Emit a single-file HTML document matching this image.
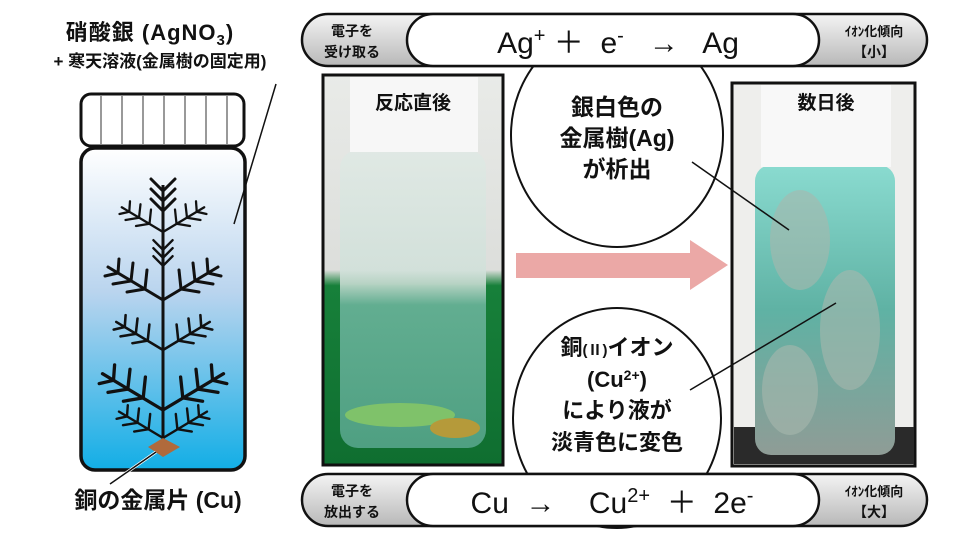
<!DOCTYPE html>
<html><head><meta charset="utf-8"><style>
body{margin:0;background:#fff}
svg{display:block}
text{font-family:"Liberation Sans","Noto Sans CJK JP",sans-serif;font-weight:bold;fill:#111}
text.eq{font-weight:normal}
</style></head><body>
<svg width="960" height="540" viewBox="0 0 960 540" xmlns="http://www.w3.org/2000/svg">
<defs>
<linearGradient id="liq" x1="0" y1="0" x2="0" y2="1"><stop offset="0" stop-color="#ffffff"/><stop offset="0.45" stop-color="#b9d4ee"/><stop offset="1" stop-color="#12aee6"/></linearGradient>
<linearGradient id="gray" x1="0" y1="0" x2="0" y2="1"><stop offset="0" stop-color="#f4f4f4"/><stop offset="1" stop-color="#b8b8b8"/></linearGradient>
<linearGradient id="p1" x1="0" y1="0" x2="0" y2="1"><stop offset="0" stop-color="#e9ebe8"/><stop offset="0.5" stop-color="#dcdedb"/><stop offset="0.54" stop-color="#17803a"/><stop offset="1" stop-color="#0f6e30"/></linearGradient>
<linearGradient id="b1" x1="0" y1="0" x2="0" y2="1"><stop offset="0" stop-color="#dfe9e4"/><stop offset="0.45" stop-color="#cfe0d9"/><stop offset="0.52" stop-color="#6fb6a0"/><stop offset="1" stop-color="#5aa890"/></linearGradient>
<linearGradient id="b2" x1="0" y1="0" x2="0" y2="1"><stop offset="0" stop-color="#8adbd0"/><stop offset="0.5" stop-color="#5fb2a4"/><stop offset="1" stop-color="#8f9c96"/></linearGradient>
<g id="br" stroke="#111" stroke-width="3" fill="none" stroke-linecap="round">
<line x1="0" y1="0" x2="55" y2="-33"/>
<line x1="18" y1="-11" x2="16" y2="-30"/><line x1="18" y1="-11" x2="36" y2="-8"/>
<line x1="32" y1="-19" x2="30" y2="-37"/><line x1="32" y1="-19" x2="50" y2="-16"/>
<line x1="45" y1="-27" x2="44" y2="-41"/><line x1="45" y1="-27" x2="58" y2="-24"/>
</g>
<g id="tuft" stroke="#111" stroke-width="3" fill="none" stroke-linecap="round">
<polyline points="-12,-6 0,6 12,-6"/><polyline points="-12,4 0,16 12,4"/><polyline points="-12,14 0,26 12,14"/>
</g>
</defs>

<text x="150" y="40" font-size="22" text-anchor="middle" letter-spacing="1">硝酸銀 (AgNO<tspan font-size="15" dy="5">3</tspan><tspan dy="-5">)</tspan></text>
<text x="160" y="67" font-size="17" text-anchor="middle">+ 寒天溶液(金属樹の固定用)</text>
<rect x="81" y="94" width="163" height="52" rx="10" fill="#fff" stroke="#111" stroke-width="3"/>
<g stroke="#777" stroke-width="1.5">
<line x1="101" y1="96" x2="101" y2="144"/><line x1="122" y1="96" x2="122" y2="144"/><line x1="143" y1="96" x2="143" y2="144"/><line x1="164" y1="96" x2="164" y2="144"/><line x1="185" y1="96" x2="185" y2="144"/><line x1="206" y1="96" x2="206" y2="144"/><line x1="227" y1="96" x2="227" y2="144"/></g>
<rect x="81" y="148" width="164" height="322" rx="14" fill="url(#liq)" stroke="#111" stroke-width="3.5"/>
<line x1="276" y1="84" x2="234" y2="224" stroke="#111" stroke-width="1.5"/>
<g>
<line x1="163" y1="185" x2="163" y2="440" stroke="#111" stroke-width="3"/>
<use href="#tuft" transform="translate(163,185)"/>
<use href="#tuft" transform="translate(163,245) scale(0.8)"/>
<use href="#br" transform="translate(163,232) scale(0.75)"/>
<use href="#br" transform="translate(163,232) scale(-0.75,0.75)"/>
<use href="#br" transform="translate(163,300) scale(1)"/>
<use href="#br" transform="translate(163,300) scale(-1,1)"/>
<use href="#br" transform="translate(163,350) scale(0.85)"/>
<use href="#br" transform="translate(163,350) scale(-0.85,0.85)"/>
<use href="#br" transform="translate(163,410) scale(1.1)"/>
<use href="#br" transform="translate(163,410) scale(-1.1,1.1)"/>
<use href="#br" transform="translate(163,438) scale(0.8)"/>
<use href="#br" transform="translate(163,438) scale(-0.8,0.8)"/>
</g>
<polygon points="148,447 163,438 180,447 163,457" fill="#b06a3c"/>
<line x1="156" y1="452" x2="110" y2="484" stroke="#fff" stroke-width="3"/>
<line x1="156" y1="452" x2="110" y2="484" stroke="#111" stroke-width="1.5"/>
<text x="158" y="508" font-size="23" text-anchor="middle">銅の金属片 (Cu)</text>

<ellipse cx="617" cy="135" rx="106" ry="112" fill="#fff" stroke="#111" stroke-width="2"/>
<ellipse cx="617" cy="418" rx="104" ry="110" fill="#fff" stroke="#111" stroke-width="2"/>
<text x="617" y="115" font-size="23" text-anchor="middle">銀白色の</text>
<text x="617" y="146" font-size="23" text-anchor="middle">金属樹(Ag)</text>
<text x="617" y="177" font-size="23" text-anchor="middle">が析出</text>
<text x="617" y="355" font-size="22" text-anchor="middle">銅<tspan font-size="15">(Ⅱ)</tspan>イオン</text>
<text x="617" y="387" font-size="22" text-anchor="middle">(Cu<tspan font-size="14" dy="-7">2+</tspan><tspan dy="7">)</tspan></text>
<text x="617" y="418" font-size="22" text-anchor="middle">により液が</text>
<text x="617" y="450" font-size="22" text-anchor="middle">淡青色に変色</text>

<polygon points="516,253 690,253 690,240 728,265 690,290 690,278 516,278" fill="#eba8a6"/>

<rect x="323" y="75" width="180" height="390" fill="url(#p1)" stroke="#111" stroke-width="3"/>
<rect x="340" y="150" width="146" height="298" rx="18" fill="url(#b1)" opacity="0.85"/>
<ellipse cx="400" cy="415" rx="55" ry="12" fill="#7fc26a"/>
<ellipse cx="455" cy="428" rx="25" ry="10" fill="#b59a3a"/>
<rect x="350" y="77" width="128" height="75" fill="#f7f7f7"/>
<text x="413" y="109" font-size="19" text-anchor="middle">反応直後</text>

<rect x="732" y="83" width="183" height="383" fill="#eeeeec" stroke="#111" stroke-width="3"/>
<rect x="734" y="427" width="180" height="37" fill="#2a2a2a"/>
<rect x="755" y="165" width="140" height="290" rx="16" fill="url(#b2)"/>
<g fill="#a8b8ae" opacity="0.6"><ellipse cx="800" cy="240" rx="30" ry="50"/><ellipse cx="850" cy="330" rx="30" ry="60"/><ellipse cx="790" cy="390" rx="28" ry="45"/></g>
<rect x="761" y="85" width="130" height="82" fill="#f8f8f8"/>
<text x="826" y="109" font-size="19" text-anchor="middle">数日後</text>

<line x1="692" y1="162" x2="789" y2="230" stroke="#111" stroke-width="1.5"/>
<line x1="690" y1="390" x2="836" y2="303" stroke="#111" stroke-width="1.5"/>

<rect x="302" y="14" width="625" height="52" rx="26" fill="url(#gray)" stroke="#111" stroke-width="2.5"/>
<rect x="407" y="14" width="412" height="52" rx="26" fill="#fff" stroke="#111" stroke-width="2.5"/>
<text x="352" y="36" font-size="14" text-anchor="middle">電子を</text>
<text x="352" y="57" font-size="14" text-anchor="middle">受け取る</text>
<text class="eq" x="618" y="53" font-size="30" text-anchor="middle" xml:space="preserve">Ag<tspan font-size="20" dy="-11">+</tspan><tspan dy="11"> ＋  e</tspan><tspan font-size="20" dy="-11">-</tspan><tspan dy="11">   →   Ag</tspan></text>
<text x="874" y="36" font-size="13" text-anchor="middle">ｲｵﾝ化傾向</text>
<text x="874" y="57" font-size="14" text-anchor="middle">【小】</text>

<rect x="302" y="474" width="625" height="52" rx="26" fill="url(#gray)" stroke="#111" stroke-width="2.5"/>
<rect x="407" y="474" width="412" height="52" rx="26" fill="#fff" stroke="#111" stroke-width="2.5"/>
<text x="352" y="496" font-size="14" text-anchor="middle">電子を</text>
<text x="352" y="517" font-size="14" text-anchor="middle">放出する</text>
<text class="eq" x="612" y="513" font-size="30" text-anchor="middle" xml:space="preserve">Cu  →    Cu<tspan font-size="20" dy="-11">2+</tspan><tspan dy="11">  ＋  2e</tspan><tspan font-size="20" dy="-11">-</tspan></text>
<text x="874" y="496" font-size="13" text-anchor="middle">ｲｵﾝ化傾向</text>
<text x="874" y="517" font-size="14" text-anchor="middle">【大】</text>
</svg>
</body></html>
